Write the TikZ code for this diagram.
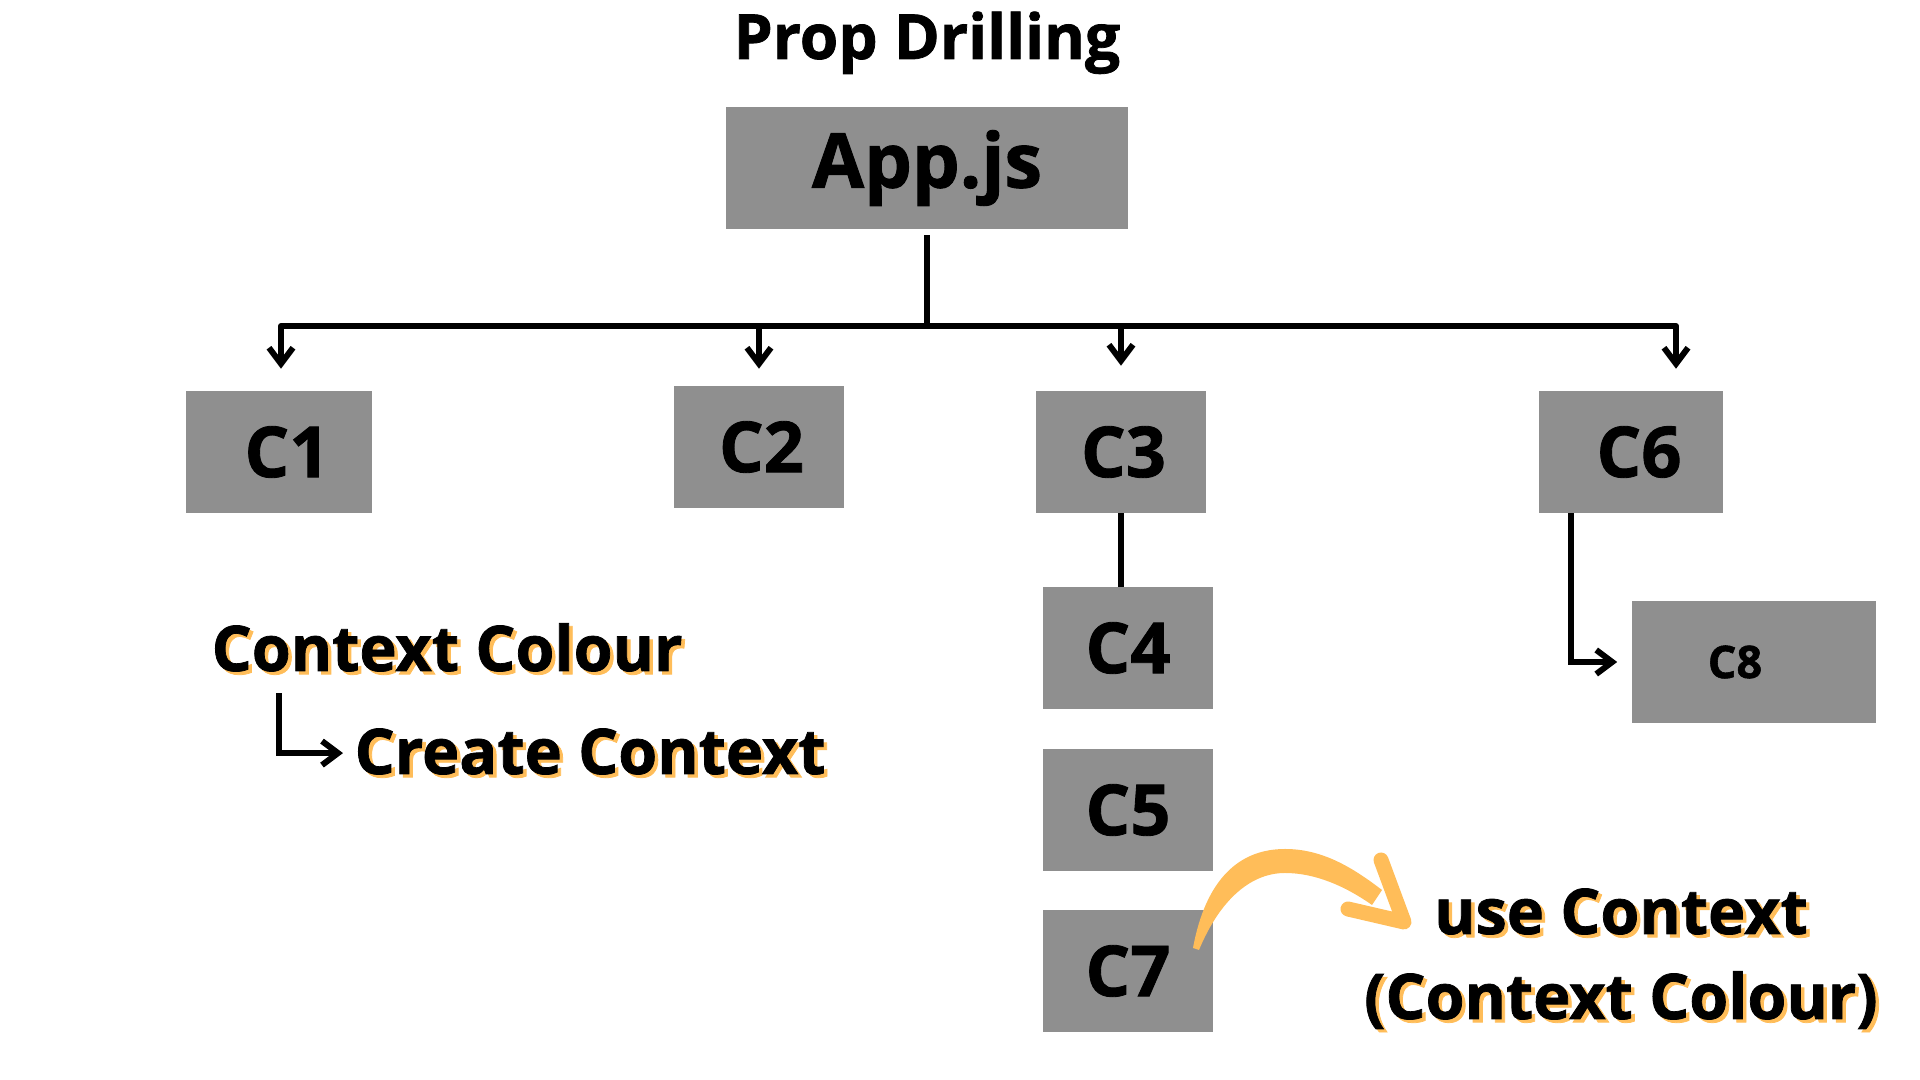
\documentclass[tikz,border=0pt]{standalone}
\usepackage{fontspec}
\setmainfont{Open Sans}[BoldFeatures={FakeBold=1.2}]
\usetikzlibrary{arrows.meta,positioning,calc}

\newcommand{\glow}[1]{\makebox[0pt][l]{\hspace{1pt}\raisebox{-0.9pt}{\textcolor{glow_orange}{#1}}}#1}

\begin{document}
\begin{tikzpicture}[x=0.01cm, y=-0.01cm,
    compbox/.style={fill=box_grey, inner sep=0pt, minimum width=1.69cm, minimum height=1.21cm, font=\bfseries\fontsize{20}{24}\selectfont},
    arr/.style={line width=1.7pt, -{Straight Barb[length=1.6mm,width=2.4mm]}},
    plain/.style={line width=1.7pt},
    labeltxt/.style={inner sep=0pt, font=\bfseries\fontsize{17.9}{21}\selectfont}]
    \definecolor{box_grey}{HTML}{8F8F8F}
    \definecolor{glow_orange}{HTML}{FFBD59}
    \definecolor{arrow_orange}{HTML}{FFBD59}
    %\draw[help lines, step=100] (0,0) grid (1920,1080);
    \useasboundingbox (0,0) rectangle (1920,1080);

    \node[inner sep=0pt, font=\bfseries\fontsize{17.7}{20}\selectfont, anchor=base] (title) at (927,59) {Prop Drilling};
    \node[compbox, minimum width=4.01cm, font=\bfseries\fontsize{21.5}{25}\selectfont] (app) at (927,168) {App.js};

    \node[compbox, minimum width=1.86cm] (c1) at (279,452) {\hspace{0.16cm}C1};
    \node[compbox] (c2) at (759,447) {\kern0.05cm C2};
    \node[compbox] (c3) at (1121,452) {\kern0.05cm C3};
    \node[compbox, minimum width=1.83cm] (c6) at (1631,452) {\hspace{0.16cm}C6};
    \node[compbox] (c4) at (1128,648) {C4};
    \node[compbox] (c5) at (1128,810) {C5};
    \node[compbox] (c7) at (1128,971) {C7};
    \node[compbox, minimum width=2.44cm, font=\bfseries\fontsize{12.8}{15}\selectfont] (c8) at (1754,662) {C8\kern0.38cm};

    \node[labeltxt, anchor=base west] (ctxcol) at (211,671) {\glow{Context Colour}};
    \node[labeltxt, anchor=base west] (create) at (354,774) {\glow{Create Context}};
    \node[labeltxt, anchor=base] (usectx) at (1621,934) {\glow{use Context}};
    \node[labeltxt, anchor=base] (usecol) at (1621,1019) {\glow{(Context Colour)}};

    \coordinate (busL) at (281,326);
    \coordinate (busR) at (1676,326);
    \draw[plain, shorten <=0.06cm] (app.south) -- (app.south |- busL);
    \draw[plain, line cap=round] (busL) -- (busR);
    \draw[arr, shorten >=0.22cm] (busL) -- (busL |- c1.north);
    \draw[arr, shorten >=0.17cm] (c2.north |- busL) -- (c2.north);
    \draw[arr, shorten >=0.25cm] (c3.north |- busL) -- (c3.north);
    \draw[arr, shorten >=0.22cm] (busR) -- (busR |- c6.north);
    \draw[plain] (c3.south) -- (c3.south |- c4.north);
    \draw[arr, shorten >=0.14cm] ([xshift=0.32cm]c6.south west) |- (c8.west);
    \draw[arr, shorten >=0.11cm] ([xshift=0.68cm, yshift=-0.18cm]ctxcol.south west) |- (create.west);

    % curved arrow from C7 to use Context
    \fill[arrow_orange] (1193,948) .. controls (1206,878) and (1240,849) .. (1285,849) .. controls (1322,849) and (1352,867) .. (1382,890)
        -- (1372,905) .. controls (1345,886) and (1315,873) .. (1285,873) .. controls (1248,873) and (1218,904) .. (1199,950) -- cycle;
    \draw[arrow_orange, line width=0.15cm, line cap=round, line join=round] (1381,860) -- (1404,922) -- (1348,909);
\end{tikzpicture}
\end{document}
